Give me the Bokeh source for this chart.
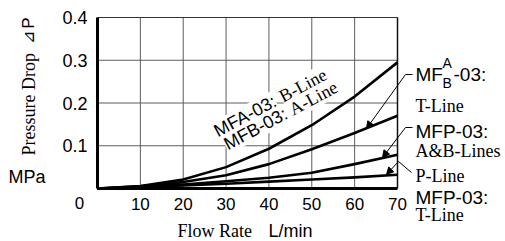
import math
from bokeh.plotting import figure
from bokeh.models import Label, Arrow, NormalHead, Range1d
from bokeh.core.properties import value
from bokeh.embed import file_html
from bokeh.resources import INLINE

# ---- data ----
flow = [0, 10, 20, 30, 40, 50, 60, 70]
mfa_b_line = [0, 0.006, 0.021, 0.050, 0.093, 0.148, 0.215, 0.295]
mf_t_line = [0, 0.005, 0.015, 0.031, 0.057, 0.092, 0.130, 0.170]
mfp_ab_lines = [0, 0.003, 0.009, 0.017, 0.025, 0.037, 0.057, 0.079]
p_line = [0, 0.003, 0.007, 0.011, 0.016, 0.021, 0.026, 0.032]
x_ticks = [10, 20, 30, 40, 50, 60, 70]
x_tick_labels = ["10", "20", "30", "40", "50", "60", "70"]
y_ticks = [0.1, 0.2, 0.3, 0.4]
y_tick_labels = ["0.1", "0.2", "0.3", "0.4"]
x_grid = [10, 20, 30, 40, 50, 60]
y_grid = [0.1, 0.2, 0.3]
x_min, x_max = 0, 70
y_min, y_max = 0, 0.4

SANS = "Liberation Sans"
SERIF = "Liberation Serif"

W, H = 505, 241
# plot area in canvas pixels: x 97..397, y 17..188
PL, PR, PT, PB = 97, 397, 17, 188
sx = (x_max - x_min) / (PR - PL)
sy = (y_max - y_min) / (PB - PT)

p = figure(width=W, height=H,
           x_range=Range1d(x_min - PL * sx, x_min + (W - PL) * sx),
           y_range=Range1d(y_min - (H - PB) * sy, y_min + PB * sy),
           output_backend="svg", toolbar_location=None,
           min_border=0, min_border_left=0, min_border_right=0,
           min_border_top=0, min_border_bottom=0)
p.axis.visible = False
p.grid.visible = False
p.outline_line_color = None
p.background_fill_color = "white"
p.border_fill_color = "white"

# grid
p.segment(x0=x_grid, y0=[y_min] * len(x_grid), x1=x_grid, y1=[y_max] * len(x_grid),
          line_color="#5c5c5c", line_width=1)
p.segment(x0=[x_min] * len(y_grid), y0=y_grid, x1=[x_max] * len(y_grid), y1=y_grid,
          line_color="#5c5c5c", line_width=1)
# frame
p.segment(x0=[x_min], y0=[y_max], x1=[x_max], y1=[y_max], line_color="#333333", line_width=1.2)
p.segment(x0=[x_max], y0=[y_min], x1=[x_max], y1=[y_max], line_color="#111111", line_width=1.5)

# curves
for ys in (mfa_b_line, mf_t_line, mfp_ab_lines, p_line):
    p.line(flow, ys, line_color="black", line_width=2.6, line_join="round")

# axis lines
p.segment(x0=[x_min], y0=[y_min], x1=[x_min], y1=[y_max], line_color="black", line_width=3)
p.segment(x0=[x_min], y0=[y_min], x1=[x_max], y1=[y_min], line_color="black", line_width=3)

# tick labels
p.text(x=x_ticks, y=[y_min] * len(x_ticks), text=x_tick_labels, y_offset=15,
       text_font=value(SANS), text_font_size="17px", text_align="center",
       text_baseline="middle", text_color="black")
p.text(x=[x_min] * len(y_ticks), y=y_ticks, text=y_tick_labels, x_offset=-10,
       text_font=value(SANS), text_font_size="18px", text_align="right",
       text_baseline="middle", text_color="black")
p.text(x=[x_min], y=[y_min], text=["0"], x_offset=-18, y_offset=14,
       text_font=value(SANS), text_font_size="17px", text_align="center",
       text_baseline="middle", text_color="black")

# reference-pixel -> data helpers (layout only)
SHIFT = 5  # Label baselines render slightly low; compensate


def FX(px):
    return x_min + (px - PL) * sx


def FY(py):
    return y_min + (PB - py) * sy


def lab(px, py, text, font, size, align="left", angle=0.0, bg=None):
    px2 = px - SHIFT * math.sin(angle)
    py2 = py - SHIFT * math.cos(angle)
    kw = dict(x=FX(px2), y=FY(py2), text=text, text_font=font, text_font_size=size,
              text_align=align, text_baseline="alphabetic", text_color="black", angle=angle)
    if bg:
        kw["background_fill_color"] = bg
    p.add_layout(Label(**kw))


# rotated in-plot labels
ang = math.radians(28)
d = 74
dx, dy = d * math.cos(ang), -d * math.sin(ang)
lab(217, 136, "MFA-03:", SANS, "18px", angle=ang, bg="white")
lab(217 + dx, 136 + dy, "B-Line", SERIF, "18px", angle=ang, bg="white")
lab(227, 149, "MFB-03:", SANS, "18px", angle=ang, bg="white")
lab(227 + dx, 149 + dy, "A-Line", SERIF, "18px", angle=ang, bg="white")

# axis titles
lab(33, 155, "Pressure Drop", SERIF, "18px", angle=math.pi / 2)
lab(33, 30, "\u22bf", "DejaVu Sans", "16px", align="right", angle=math.pi / 2)
lab(33, 17, "P", SANS, "17px", align="right", angle=math.pi / 2)
lab(8, 181, "MPa", SANS, "18px")
lab(177, 235, "Flow Rate", SERIF, "18px")
lab(268, 235, "L/min", SANS, "18px")

# right-hand series labels
lab(415, 79, "MF", SANS, "19px")
lab(442, 67, "A", SANS, "14px")
lab(442, 87, "B", SANS, "14px")
lab(453, 79, "-03:", SANS, "19px")
lab(415, 110, "T-Line", SERIF, "18px")
lab(415, 136, "MFP-03:", SANS, "19px")
lab(415, 155, "A&B-Lines", SERIF, "18px")
lab(415, 180, "P-Line", SERIF, "18px")
lab(415, 202, "MFP-03:", SANS, "19px")
lab(415, 219, "T-Line", SERIF, "18px")


# leader lines
def seg(x0, y0, x1, y1, head=False):
    end = NormalHead(size=7, fill_color="black", line_color="black", line_width=1) if head else None
    p.add_layout(Arrow(x_start=FX(x0), y_start=FY(y0), x_end=FX(x1), y_end=FY(y1),
                       line_color="black", line_width=1, end=end))


seg(405, 74, 412, 74)
seg(405, 74, 366, 128, head=True)
seg(405, 127, 412, 127)
seg(405, 127, 382, 157, head=True)
seg(411, 172, 398, 161)
seg(398, 161, 386, 174, head=True)

open("out.html", "w").write(file_html(p, INLINE))
